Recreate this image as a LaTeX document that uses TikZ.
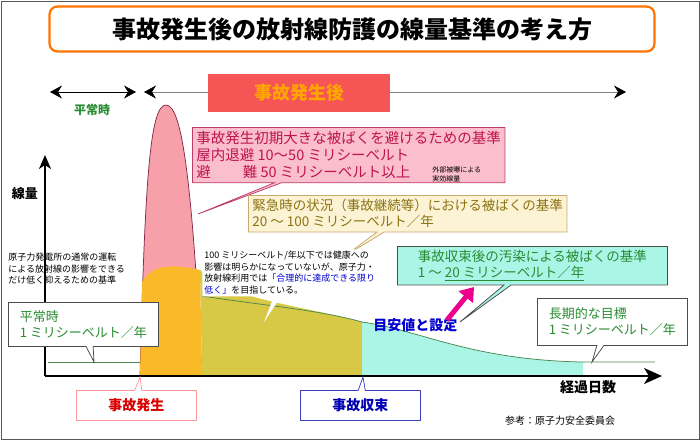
\documentclass[tikz,border=0pt]{standalone}
\usepackage{fontspec}
\setmainfont{Noto Sans CJK JP}
\usetikzlibrary{shapes.callouts,arrows.meta}
\definecolor{pinkfill}{RGB}{250,190,205}
\definecolor{pinkline}{RGB}{190,60,110}
\definecolor{pinktext}{RGB}{190,20,80}
\definecolor{creamfill}{RGB}{252,243,212}
\definecolor{creamline}{RGB}{200,170,110}
\definecolor{olivetext}{RGB}{140,115,20}
\definecolor{cyanfill}{RGB}{170,245,230}
\definecolor{greentext}{RGB}{40,140,50}
\definecolor{orangefill}{RGB}{250,185,40}
\definecolor{olivefill}{RGB}{215,200,70}
\definecolor{spikefill}{RGB}{248,160,170}
\definecolor{redbox}{RGB}{245,85,85}
\tikzset{every picture/.style={line width=0.75pt}}
\tikzset{
  callbox/.style={rectangle callout,draw,align=left,inner sep=4pt,anchor=north west},
  smalltext/.style={font=\fontsize{9}{11.5}\selectfont,align=left,anchor=north west,inner sep=0pt},
  labelbox/.style={rectangle callout,draw,minimum width=120pt,minimum height=30pt,font=\fontsize{14}{16}\selectfont\bfseries,anchor=north west},
  fathead/.tip={Stealth[length=12pt,width=13pt,inset=4pt,black]}
}
\begin{document}
\begin{tikzpicture}[x=1pt,y=1pt,yscale=-1]
  \useasboundingbox (0,0) rectangle (700,440);
  \draw[gray!70!black] (1,1) rectangle (699,439);

  % title
  \node[draw=orange!90!red,line width=2.2pt,rounded corners=8pt,minimum width=605pt,minimum height=45pt,font=\fontsize{24}{27}\selectfont\bfseries] (title) at (352,29) {事故発生後の放射線防護の線量基準の考え方};

  % periods
  \coordinate (n1) at (50,92); \coordinate (n2) at (136,92);
  \coordinate (a1) at (144,92); \coordinate (a2) at (626,92);
  \draw[fathead-fathead] (n1) -- (n2);
  \draw[gray,fathead-fathead] (a1) -- (a2);
  \node[fill=redbox,minimum width=182pt,minimum height=38pt,font=\fontsize{18}{20}\selectfont\bfseries,text=orange!70!yellow] (after) at (299,93) {事故発生後};
  \node[font=\fontsize{12}{14}\selectfont\bfseries,text=greentext] (normal) at (92,110) {平常時};

  % areas
  \fill[spikefill,draw=pinkline!70!black] (140,376) .. controls (145,180) and (150,105) .. (166,105) .. controls (182,105) and (192,180) .. (202,376) -- cycle;
  \fill[orangefill] (140,376) -- (142,282) .. controls (150,268) and (165,262) .. (200,270) -- (202,376) -- cycle;
  \fill[olivefill] (202,376) -- (200,270) .. controls (230,300) and (300,305) .. (362,322) -- (362,376) -- cycle;
  \fill[cyanfill] (362,376) -- (362,322) .. controls (420,330) and (470,360) .. (583,362) -- (583,376) -- cycle;
  \draw[greentext!60!gray] (202,296) .. controls (260,305) and (320,310) .. (362,322) .. controls (420,330) and (470,360) .. (583,362) -- (655,362);
  \draw[greentext!60!gray] (48,362) -- (140,362);

  % axes
  \coordinate (o) at (45,376); \coordinate (ytop) at (45,155); \coordinate (xend) at (662,376);
  \draw[line width=1.6pt,-{Stealth[length=14pt,width=12pt,inset=4pt]}] (o) -- (ytop);
  \draw[line width=1.6pt,-{Stealth[length=18pt,width=16pt,inset=5pt]}] (o) -- (xend);
  \node[font=\fontsize{13}{15}\selectfont\bfseries] (ylab) at (25,194) {線量};
  \node[font=\fontsize{14}{16}\selectfont\bfseries] (xlab) at (588,387) {経過日数};

  % callouts
  \node[callbox,fill=pinkfill,draw=pinkline,text=pinktext,font=\fontsize{14.5}{17}\selectfont,callout absolute pointer={(198,214)},minimum width=278pt] (early) at (192,127) {事故発生初期大きな被ばくを避けるための基準\\屋内退避 10〜50 ミリシーベルト\\避\hspace{2.2em}難 50 ミリシーベルト以上};
  \node[smalltext,font=\fontsize{7}{9}\selectfont] (ext) at (432,166) {外部被曝による\\実効線量};
  \node[callbox,fill=creamfill,draw=creamline,text=olivetext,font=\fontsize{13.5}{16}\selectfont,callout absolute pointer={(345,256)},minimum width=282pt] (emerg) at (248,195) {緊急時の状況（事故継続等）における被ばくの基準\\20 〜 100 ミリシーベルト／年};
  \node[rectangle callout,fill=white,smalltext,inner sep=2pt,callout absolute pointer={(264,322)}] (alara) at (202,249) {100 ミリシーベルト/年以下では健康への\\影響は明らかになっていないが、原子力・\\放射線利用では\textcolor{blue!80!black}{「合理的に達成できる限り}\\\textcolor{blue!80!black}{低く」}を目指している。};
  \node[callbox,fill=cyanfill,draw=gray!60!black,text=greentext,font=\fontsize{13.5}{16}\selectfont,callout absolute pointer={(460,322)},minimum width=270pt] (after2) at (397,246) {事故収束後の汚染による被ばくの基準\\1 〜 \underline{20 ミリシーベルト／年}};
  \node[smalltext,font=\fontsize{14}{16}\selectfont\bfseries,text=blue!80!black] (guide) at (373,318) {目安値と設定};
  \coordinate (mg1) at (447,320); \coordinate (mg2) at (474,287);
  \draw[magenta,line width=5pt,-{Triangle[length=13pt,width=18pt]}] (mg1) -- (mg2);
  \node[callbox,fill=white,draw=gray!60!black,text=greentext,font=\fontsize{13}{16}\selectfont,callout absolute pointer={(592,362)},minimum width=150pt,minimum height=47pt] (long) at (537,298) {長期的な目標\\1 ミリシーベルト／年};
  \node[callbox,fill=white,draw=gray!60!black,text=greentext,font=\fontsize{13}{16}\selectfont,callout absolute pointer={(94,362)},minimum width=150pt,minimum height=44pt] (usual) at (8,302) {平常時\\1 ミリシーベルト／年};
  \node[smalltext] (plant) at (8,253) {原子力発電所の通常の運転\\による放射線の影響をできる\\だけ低く抑えるための基準};

  % bottom labels
  \node[labelbox,draw=red!40,text=red!85!black,callout absolute pointer={(140,377)}] (occur) at (76,390) {事故発生};
  \node[labelbox,draw=blue!50!gray,text=blue!70!black,callout absolute pointer={(363,377)}] (settle) at (300,390) {事故収束};
  \node[font=\fontsize{10}{12}\selectfont] (ref) at (560,421) {参考：原子力安全委員会};
\end{tikzpicture}
\end{document}
